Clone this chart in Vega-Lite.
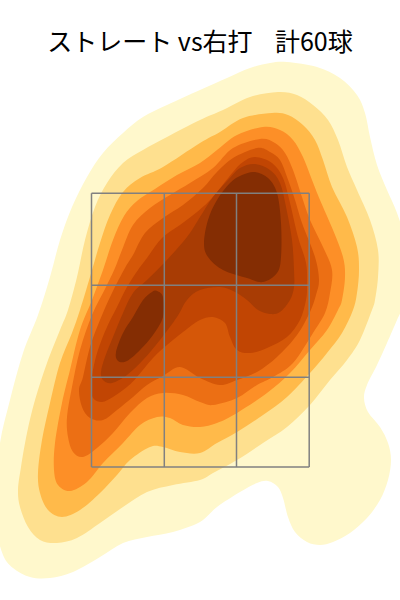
{"$schema":"https://vega.github.io/schema/vega-lite/v6.json","width":400,"height":600,"padding":0,"autosize":"none","background":"white","config":{"view":{"stroke":null}},
"title":{"text":"ストレート vs右打\u00a0\u00a0\u00a0\u00a0計60球","font":"Noto Sans CJK JP","fontSize":25,"fontWeight":"normal","color":"black","anchor":"middle","offset":-56},
"layer":[
{"data":{"values":[
{"p":"1","o":1,"x":287,"y":62},{"p":"1","o":2,"x":317,"y":67},{"p":"1","o":3,"x":340,"y":78},{"p":"1","o":4,"x":357,"y":95},{"p":"1","o":5,"x":365,"y":113},{"p":"1","o":6,"x":370,"y":137},{"p":"1","o":7,"x":377,"y":165},{"p":"1","o":8,"x":387,"y":190},{"p":"1","o":9,"x":397,"y":213},{"p":"1","o":10,"x":405,"y":240},{"p":"1","o":11,"x":408,"y":270},{"p":"1","o":12,"x":403,"y":305},{"p":"1","o":13,"x":397,"y":320},{"p":"1","o":14,"x":387,"y":343},{"p":"1","o":15,"x":377,"y":365},{"p":"1","o":16,"x":367,"y":385},{"p":"1","o":17,"x":364,"y":398},{"p":"1","o":18,"x":368,"y":412},{"p":"1","o":19,"x":380,"y":427},{"p":"1","o":20,"x":388,"y":443},{"p":"1","o":21,"x":391,"y":460},{"p":"1","o":22,"x":388,"y":480},{"p":"1","o":23,"x":380,"y":500},{"p":"1","o":24,"x":367,"y":518},{"p":"1","o":25,"x":350,"y":533},{"p":"1","o":26,"x":333,"y":542},{"p":"1","o":27,"x":320,"y":545},{"p":"1","o":28,"x":307,"y":542},{"p":"1","o":29,"x":295,"y":532},{"p":"1","o":30,"x":288,"y":517},{"p":"1","o":31,"x":283,"y":498},{"p":"1","o":32,"x":278,"y":487},{"p":"1","o":33,"x":268,"y":481},{"p":"1","o":34,"x":257,"y":483},{"p":"1","o":35,"x":240,"y":492},{"p":"1","o":36,"x":217,"y":507},{"p":"1","o":37,"x":200,"y":522},{"p":"1","o":38,"x":173,"y":532},{"p":"1","o":39,"x":147,"y":537},{"p":"1","o":40,"x":123,"y":543},{"p":"1","o":41,"x":100,"y":557},{"p":"1","o":42,"x":73,"y":572},{"p":"1","o":43,"x":50,"y":578},{"p":"1","o":44,"x":30,"y":577},{"p":"1","o":45,"x":13,"y":568},{"p":"1","o":46,"x":3,"y":555},{"p":"1","o":47,"x":-3,"y":530},{"p":"1","o":48,"x":-4,"y":490},{"p":"1","o":49,"x":0,"y":443},{"p":"1","o":50,"x":10,"y":400},{"p":"1","o":51,"x":23,"y":353},{"p":"1","o":52,"x":38,"y":315},{"p":"1","o":53,"x":50,"y":277},{"p":"1","o":54,"x":60,"y":240},{"p":"1","o":55,"x":72,"y":207},{"p":"1","o":56,"x":87,"y":177},{"p":"1","o":57,"x":103,"y":153},{"p":"1","o":58,"x":123,"y":133},{"p":"1","o":59,"x":143,"y":117},{"p":"1","o":60,"x":167,"y":105},{"p":"1","o":61,"x":200,"y":90},{"p":"1","o":62,"x":227,"y":78},{"p":"1","o":63,"x":250,"y":68},{"p":"1","o":64,"x":270,"y":63},
{"p":"2","o":1,"x":278,"y":92},{"p":"2","o":2,"x":297,"y":95},{"p":"2","o":3,"x":313,"y":105},{"p":"2","o":4,"x":328,"y":120},{"p":"2","o":5,"x":338,"y":140},{"p":"2","o":6,"x":347,"y":167},{"p":"2","o":7,"x":357,"y":190},{"p":"2","o":8,"x":370,"y":220},{"p":"2","o":9,"x":378,"y":250},{"p":"2","o":10,"x":378,"y":277},{"p":"2","o":11,"x":375,"y":300},{"p":"2","o":12,"x":372,"y":310},{"p":"2","o":13,"x":360,"y":340},{"p":"2","o":14,"x":347,"y":360},{"p":"2","o":15,"x":330,"y":380},{"p":"2","o":16,"x":310,"y":405},{"p":"2","o":17,"x":287,"y":427},{"p":"2","o":18,"x":263,"y":443},{"p":"2","o":19,"x":237,"y":460},{"p":"2","o":20,"x":213,"y":473},{"p":"2","o":21,"x":200,"y":480},{"p":"2","o":22,"x":173,"y":485},{"p":"2","o":23,"x":147,"y":492},{"p":"2","o":24,"x":123,"y":507},{"p":"2","o":25,"x":100,"y":523},{"p":"2","o":26,"x":77,"y":538},{"p":"2","o":27,"x":57,"y":543},{"p":"2","o":28,"x":40,"y":540},{"p":"2","o":29,"x":28,"y":527},{"p":"2","o":30,"x":20,"y":507},{"p":"2","o":31,"x":18,"y":490},{"p":"2","o":32,"x":21,"y":467},{"p":"2","o":33,"x":27,"y":433},{"p":"2","o":34,"x":35,"y":400},{"p":"2","o":35,"x":47,"y":363},{"p":"2","o":36,"x":60,"y":330},{"p":"2","o":37,"x":68,"y":310},{"p":"2","o":38,"x":77,"y":277},{"p":"2","o":39,"x":85,"y":240},{"p":"2","o":40,"x":95,"y":207},{"p":"2","o":41,"x":107,"y":183},{"p":"2","o":42,"x":123,"y":163},{"p":"2","o":43,"x":143,"y":150},{"p":"2","o":44,"x":167,"y":137},{"p":"2","o":45,"x":200,"y":120},{"p":"2","o":46,"x":223,"y":110},{"p":"2","o":47,"x":250,"y":97},
{"p":"3","o":1,"x":272,"y":113},{"p":"3","o":2,"x":288,"y":115},{"p":"3","o":3,"x":303,"y":125},{"p":"3","o":4,"x":315,"y":140},{"p":"3","o":5,"x":323,"y":160},{"p":"3","o":6,"x":332,"y":187},{"p":"3","o":7,"x":347,"y":217},{"p":"3","o":8,"x":357,"y":247},{"p":"3","o":9,"x":359,"y":270},{"p":"3","o":10,"x":357,"y":293},{"p":"3","o":11,"x":353,"y":310},{"p":"3","o":12,"x":342,"y":333},{"p":"3","o":13,"x":327,"y":353},{"p":"3","o":14,"x":310,"y":373},{"p":"3","o":15,"x":287,"y":397},{"p":"3","o":16,"x":263,"y":415},{"p":"3","o":17,"x":237,"y":432},{"p":"3","o":18,"x":217,"y":443},{"p":"3","o":19,"x":200,"y":453},{"p":"3","o":20,"x":180,"y":452},{"p":"3","o":21,"x":163,"y":447},{"p":"3","o":22,"x":150,"y":447},{"p":"3","o":23,"x":130,"y":460},{"p":"3","o":24,"x":117,"y":475},{"p":"3","o":25,"x":100,"y":493},{"p":"3","o":26,"x":80,"y":510},{"p":"3","o":27,"x":62,"y":517},{"p":"3","o":28,"x":48,"y":510},{"p":"3","o":29,"x":40,"y":493},{"p":"3","o":30,"x":38,"y":473},{"p":"3","o":31,"x":42,"y":440},{"p":"3","o":32,"x":50,"y":403},{"p":"3","o":33,"x":60,"y":363},{"p":"3","o":34,"x":72,"y":333},{"p":"3","o":35,"x":80,"y":310},{"p":"3","o":36,"x":90,"y":277},{"p":"3","o":37,"x":100,"y":243},{"p":"3","o":38,"x":110,"y":215},{"p":"3","o":39,"x":123,"y":192},{"p":"3","o":40,"x":140,"y":178},{"p":"3","o":41,"x":163,"y":167},{"p":"3","o":42,"x":200,"y":143},{"p":"3","o":43,"x":220,"y":132},{"p":"3","o":44,"x":243,"y":118},
{"p":"4","o":1,"x":263,"y":127},{"p":"4","o":2,"x":280,"y":130},{"p":"4","o":3,"x":293,"y":140},{"p":"4","o":4,"x":303,"y":157},{"p":"4","o":5,"x":312,"y":180},{"p":"4","o":6,"x":320,"y":200},{"p":"4","o":7,"x":333,"y":230},{"p":"4","o":8,"x":343,"y":257},{"p":"4","o":9,"x":345,"y":277},{"p":"4","o":10,"x":342,"y":300},{"p":"4","o":11,"x":338,"y":310},{"p":"4","o":12,"x":327,"y":330},{"p":"4","o":13,"x":310,"y":350},{"p":"4","o":14,"x":290,"y":373},{"p":"4","o":15,"x":267,"y":393},{"p":"4","o":16,"x":237,"y":413},{"p":"4","o":17,"x":217,"y":423},{"p":"4","o":18,"x":200,"y":427},{"p":"4","o":19,"x":183,"y":425},{"p":"4","o":20,"x":170,"y":418},{"p":"4","o":21,"x":157,"y":417},{"p":"4","o":22,"x":140,"y":425},{"p":"4","o":23,"x":123,"y":443},{"p":"4","o":24,"x":103,"y":463},{"p":"4","o":25,"x":87,"y":482},{"p":"4","o":26,"x":70,"y":491},{"p":"4","o":27,"x":58,"y":485},{"p":"4","o":28,"x":54,"y":470},{"p":"4","o":29,"x":55,"y":443},{"p":"4","o":30,"x":62,"y":403},{"p":"4","o":31,"x":70,"y":370},{"p":"4","o":32,"x":80,"y":330},{"p":"4","o":33,"x":92,"y":300},{"p":"4","o":34,"x":103,"y":270},{"p":"4","o":35,"x":113,"y":240},{"p":"4","o":36,"x":124,"y":216},{"p":"4","o":37,"x":137,"y":201},{"p":"4","o":38,"x":155,"y":189},{"p":"4","o":39,"x":177,"y":175},{"p":"4","o":40,"x":200,"y":163},{"p":"4","o":41,"x":217,"y":150},{"p":"4","o":42,"x":237,"y":135},
{"p":"5","o":1,"x":260,"y":139},{"p":"5","o":2,"x":275,"y":143},{"p":"5","o":3,"x":285,"y":153},{"p":"5","o":4,"x":293,"y":170},{"p":"5","o":5,"x":302,"y":197},{"p":"5","o":6,"x":310,"y":220},{"p":"5","o":7,"x":323,"y":247},{"p":"5","o":8,"x":332,"y":270},{"p":"5","o":9,"x":330,"y":293},{"p":"5","o":10,"x":325,"y":313},{"p":"5","o":11,"x":313,"y":333},{"p":"5","o":12,"x":293,"y":363},{"p":"5","o":13,"x":273,"y":377},{"p":"5","o":14,"x":257,"y":385},{"p":"5","o":15,"x":237,"y":398},{"p":"5","o":16,"x":213,"y":405},{"p":"5","o":17,"x":200,"y":402},{"p":"5","o":18,"x":183,"y":395},{"p":"5","o":19,"x":163,"y":393},{"p":"5","o":20,"x":147,"y":398},{"p":"5","o":21,"x":130,"y":413},{"p":"5","o":22,"x":113,"y":433},{"p":"5","o":23,"x":97,"y":448},{"p":"5","o":24,"x":83,"y":457},{"p":"5","o":25,"x":73,"y":452},{"p":"5","o":26,"x":68,"y":437},{"p":"5","o":27,"x":67,"y":417},{"p":"5","o":28,"x":72,"y":387},{"p":"5","o":29,"x":80,"y":350},{"p":"5","o":30,"x":92,"y":315},{"p":"5","o":31,"x":106,"y":287},{"p":"5","o":32,"x":115,"y":268},{"p":"5","o":33,"x":122,"y":250},{"p":"5","o":34,"x":133,"y":225},{"p":"5","o":35,"x":150,"y":208},{"p":"5","o":36,"x":170,"y":195},{"p":"5","o":37,"x":190,"y":183},{"p":"5","o":38,"x":213,"y":168},{"p":"5","o":39,"x":233,"y":148},
{"p":"6","o":1,"x":257,"y":148},{"p":"6","o":2,"x":270,"y":152},{"p":"6","o":3,"x":280,"y":160},{"p":"6","o":4,"x":287,"y":177},{"p":"6","o":5,"x":295,"y":200},{"p":"6","o":6,"x":302,"y":223},{"p":"6","o":7,"x":315,"y":257},{"p":"6","o":8,"x":319,"y":280},{"p":"6","o":9,"x":316,"y":295},{"p":"6","o":10,"x":310,"y":312},{"p":"6","o":11,"x":297,"y":335},{"p":"6","o":12,"x":277,"y":357},{"p":"6","o":13,"x":257,"y":372},{"p":"6","o":14,"x":237,"y":380},{"p":"6","o":15,"x":220,"y":385},{"p":"6","o":16,"x":200,"y":378},{"p":"6","o":17,"x":180,"y":367},{"p":"6","o":18,"x":163,"y":376},{"p":"6","o":19,"x":147,"y":385},{"p":"6","o":20,"x":133,"y":397},{"p":"6","o":21,"x":117,"y":410},{"p":"6","o":22,"x":103,"y":420},{"p":"6","o":23,"x":90,"y":418},{"p":"6","o":24,"x":82,"y":407},{"p":"6","o":25,"x":79,"y":390},{"p":"6","o":26,"x":83,"y":377},{"p":"6","o":27,"x":90,"y":347},{"p":"6","o":28,"x":100,"y":320},{"p":"6","o":29,"x":112,"y":293},{"p":"6","o":30,"x":125,"y":268},{"p":"6","o":31,"x":133,"y":255},{"p":"6","o":32,"x":145,"y":233},{"p":"6","o":33,"x":163,"y":218},{"p":"6","o":34,"x":183,"y":205},{"p":"6","o":35,"x":203,"y":188},{"p":"6","o":36,"x":217,"y":172},{"p":"6","o":37,"x":233,"y":158},
{"p":"7","o":1,"x":255,"y":157},{"p":"7","o":2,"x":272,"y":163},{"p":"7","o":3,"x":283,"y":178},{"p":"7","o":4,"x":290,"y":203},{"p":"7","o":5,"x":298,"y":237},{"p":"7","o":6,"x":306,"y":263},{"p":"7","o":7,"x":307,"y":285},{"p":"7","o":8,"x":306,"y":300},{"p":"7","o":9,"x":300,"y":320},{"p":"7","o":10,"x":287,"y":337},{"p":"7","o":11,"x":267,"y":348},{"p":"7","o":12,"x":250,"y":353},{"p":"7","o":13,"x":237,"y":350},{"p":"7","o":14,"x":230,"y":337},{"p":"7","o":15,"x":225,"y":323},{"p":"7","o":16,"x":213,"y":317},{"p":"7","o":17,"x":200,"y":320},{"p":"7","o":18,"x":183,"y":332},{"p":"7","o":19,"x":167,"y":345},{"p":"7","o":20,"x":153,"y":358},{"p":"7","o":21,"x":137,"y":377},{"p":"7","o":22,"x":127,"y":387},{"p":"7","o":23,"x":113,"y":397},{"p":"7","o":24,"x":102,"y":402},{"p":"7","o":25,"x":93,"y":398},{"p":"7","o":26,"x":91,"y":387},{"p":"7","o":27,"x":93,"y":370},{"p":"7","o":28,"x":98,"y":350},{"p":"7","o":29,"x":107,"y":327},{"p":"7","o":30,"x":117,"y":307},{"p":"7","o":31,"x":127,"y":287},{"p":"7","o":32,"x":138,"y":270},{"p":"7","o":33,"x":147,"y":258},{"p":"7","o":34,"x":162,"y":238},{"p":"7","o":35,"x":180,"y":225},{"p":"7","o":36,"x":197,"y":212},{"p":"7","o":37,"x":212,"y":198},{"p":"7","o":38,"x":233,"y":172},{"p":"7","o":39,"x":243,"y":162},
{"p":"8","o":1,"x":255,"y":164},{"p":"8","o":2,"x":270,"y":170},{"p":"8","o":3,"x":280,"y":183},{"p":"8","o":4,"x":286,"y":207},{"p":"8","o":5,"x":292,"y":240},{"p":"8","o":6,"x":294,"y":270},{"p":"8","o":7,"x":294,"y":287},{"p":"8","o":8,"x":290,"y":300},{"p":"8","o":9,"x":280,"y":312},{"p":"8","o":10,"x":270,"y":314},{"p":"8","o":11,"x":258,"y":310},{"p":"8","o":12,"x":247,"y":300},{"p":"8","o":13,"x":235,"y":292},{"p":"8","o":14,"x":220,"y":287},{"p":"8","o":15,"x":200,"y":290},{"p":"8","o":16,"x":187,"y":300},{"p":"8","o":17,"x":177,"y":317},{"p":"8","o":18,"x":160,"y":340},{"p":"8","o":19,"x":143,"y":360},{"p":"8","o":20,"x":127,"y":375},{"p":"8","o":21,"x":112,"y":383},{"p":"8","o":22,"x":103,"y":380},{"p":"8","o":23,"x":101,"y":372},{"p":"8","o":24,"x":105,"y":357},{"p":"8","o":25,"x":113,"y":337},{"p":"8","o":26,"x":123,"y":313},{"p":"8","o":27,"x":133,"y":293},{"p":"8","o":28,"x":147,"y":280},{"p":"8","o":29,"x":165,"y":262},{"p":"8","o":30,"x":187,"y":237},{"p":"8","o":31,"x":200,"y":217},{"p":"8","o":32,"x":213,"y":197},{"p":"8","o":33,"x":228,"y":180},{"p":"8","o":34,"x":240,"y":168},
{"p":"9a","o":1,"x":255,"y":172},{"p":"9a","o":2,"x":268,"y":178},{"p":"9a","o":3,"x":277,"y":193},{"p":"9a","o":4,"x":281,"y":223},{"p":"9a","o":5,"x":281,"y":257},{"p":"9a","o":6,"x":277,"y":273},{"p":"9a","o":7,"x":263,"y":282},{"p":"9a","o":8,"x":247,"y":278},{"p":"9a","o":9,"x":223,"y":270},{"p":"9a","o":10,"x":208,"y":257},{"p":"9a","o":11,"x":204,"y":243},{"p":"9a","o":12,"x":208,"y":220},{"p":"9a","o":13,"x":217,"y":200},{"p":"9a","o":14,"x":230,"y":183},{"p":"9a","o":15,"x":242,"y":175},
{"p":"9b","o":1,"x":157,"y":291},{"p":"9b","o":2,"x":163,"y":297},{"p":"9b","o":3,"x":163,"y":317},{"p":"9b","o":4,"x":153,"y":335},{"p":"9b","o":5,"x":140,"y":350},{"p":"9b","o":6,"x":127,"y":361},{"p":"9b","o":7,"x":118,"y":361},{"p":"9b","o":8,"x":116,"y":352},{"p":"9b","o":9,"x":123,"y":333},{"p":"9b","o":10,"x":133,"y":317},{"p":"9b","o":11,"x":143,"y":300},{"p":"9b","o":12,"x":152,"y":292}
]},
"mark":{"type":"line","interpolate":"cardinal-closed","filled":true,"strokeWidth":0,"clip":true},
"encoding":{"x":{"field":"x","type":"quantitative","scale":{"domain":[0,400],"nice":false,"zero":false},"axis":null},
"y":{"field":"y","type":"quantitative","scale":{"domain":[600,0],"nice":false,"zero":false},"axis":null},
"order":{"field":"o","type":"quantitative"},
"color":{"field":"p","type":"nominal","legend":null,"scale":{"domain":["1","2","3","4","5","6","7","8","9a","9b"],"range":["#fff8cc","#fee08f","#ffba4a","#fd8f27","#ec6f14","#d55708","#c14503","#a83c04","#842d03","#842d03"]}}}},
{"data":{"values":[
{"x":91.5,"x2":91.5,"y":193.3,"y2":467},{"x":164.3,"x2":164.3,"y":193.3,"y2":467},{"x":236.5,"x2":236.5,"y":193.3,"y2":467},{"x":309.2,"x2":309.2,"y":193.3,"y2":467},
{"x":91.5,"x2":309.2,"y":193.3,"y2":193.3},{"x":91.5,"x2":309.2,"y":285.3,"y2":285.3},{"x":91.5,"x2":309.2,"y":377.3,"y2":377.3},{"x":91.5,"x2":309.2,"y":467,"y2":467}
]},
"mark":{"type":"rule","color":"#808080","strokeWidth":1.5},
"encoding":{"x":{"field":"x","type":"quantitative","axis":null},"x2":{"field":"x2"},"y":{"field":"y","type":"quantitative","axis":null},"y2":{"field":"y2"}}}
]}
